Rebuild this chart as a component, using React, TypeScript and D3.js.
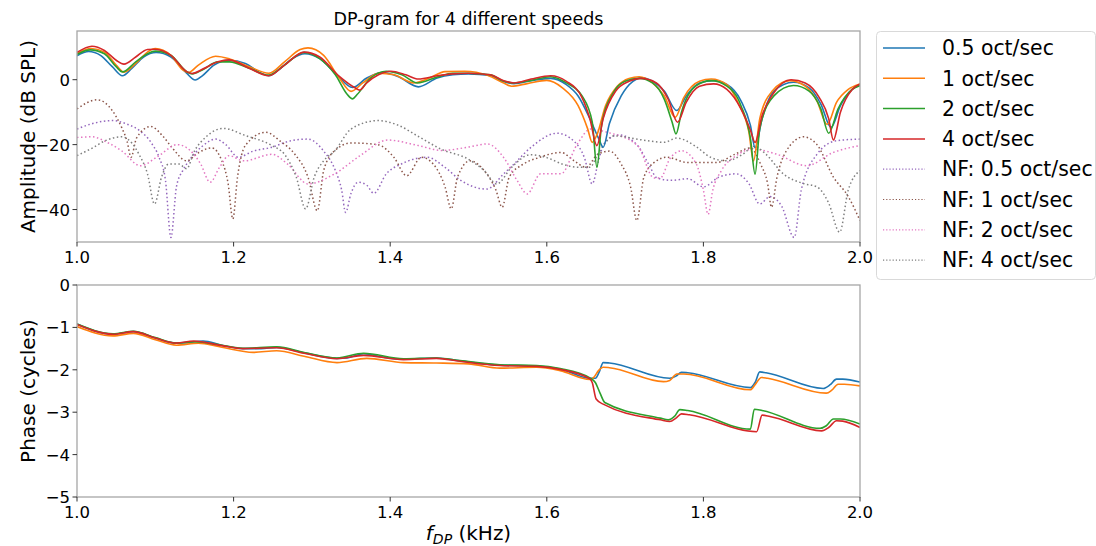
import React from "react";
import * as d3 from "d3";

type P = [number, number];

const seriesLabels = ["0.5 oct/sec", "1 oct/sec", "2 oct/sec", "4 oct/sec"];
const nfLabels = ["NF: 0.5 oct/sec", "NF: 1 oct/sec", "NF: 2 oct/sec", "NF: 4 oct/sec"];
const seriesColors = ["#1f77b4", "#ff7f0e", "#2ca02c", "#d62728"];
const nfColors = ["#9467bd", "#8c564b", "#e377c2", "#7f7f7f"];

const xTicks = [1.0, 1.2, 1.4, 1.6, 1.8, 2.0];
const ampTicks = [0, -20, -40];
const phaseTicks = [0, -1, -2, -3, -4, -5];

// Amplitude (dB SPL) of the signal for each speed
const amp05: P[] = [[1.0,7.4],[1.015,8.7],[1.03,7.5],[1.045,4.0],[1.058,1.2],[1.07,3.5],[1.085,7.0],[1.101,8.4],[1.12,7.0],[1.14,2.0],[1.151,-0.1],[1.16,1.2],[1.175,4.5],[1.194,6.0],[1.215,5.0],[1.235,2.0],[1.245,1.2],[1.26,3.5],[1.275,6.5],[1.291,8.0],[1.31,6.5],[1.33,2.0],[1.352,-2.4],[1.37,0.5],[1.39,2.2],[1.41,1.0],[1.436,-2.2],[1.46,0.5],[1.48,1.5],[1.5,1.8],[1.528,1.3],[1.545,-0.5],[1.558,-1.2],[1.58,-0.3],[1.605,0.4],[1.625,-1.5],[1.64,-5.0],[1.655,-12.0],[1.666,-18.0],[1.672,-20.8],[1.68,-13.5],[1.695,-5.0],[1.71,-0.5],[1.722,0.6],[1.735,-0.5],[1.75,-3.5],[1.766,-9.5],[1.778,-5.0],[1.795,-1.0],[1.813,-0.3],[1.83,-1.5],[1.848,-6.5],[1.86,-14.0],[1.866,-21.0],[1.875,-12.0],[1.89,-3.5],[1.915,-0.8],[1.935,-2.5],[1.95,-7.5],[1.963,-14.7],[1.975,-8.0],[1.99,-3.0],[2.0,-1.5]];
const amp1: P[] = [[1.0,8.0],[1.018,9.6],[1.035,8.5],[1.05,4.5],[1.06,2.3],[1.075,5.0],[1.09,8.5],[1.1,9.6],[1.12,7.5],[1.135,3.0],[1.142,2.2],[1.155,4.5],[1.177,7.2],[1.195,6.4],[1.22,4.0],[1.245,2.0],[1.265,5.5],[1.285,9.3],[1.295,9.8],[1.315,7.5],[1.335,0.5],[1.35,-3.6],[1.365,-1.0],[1.385,2.0],[1.405,1.5],[1.43,-1.0],[1.45,0.5],[1.47,2.5],[1.495,2.6],[1.525,1.3],[1.545,-1.0],[1.555,-2.0],[1.575,-1.2],[1.6,-0.2],[1.62,-2.5],[1.64,-8.0],[1.652,-15.0],[1.658,-19.3],[1.664,-17.0],[1.675,-8.0],[1.69,-2.0],[1.705,0.4],[1.718,0.9],[1.735,-1.0],[1.75,-5.0],[1.764,-11.6],[1.775,-5.5],[1.795,-0.5],[1.81,0.2],[1.83,-1.5],[1.845,-7.5],[1.858,-16.0],[1.864,-25.0],[1.872,-12.0],[1.888,-3.5],[1.91,-0.3],[1.93,-2.0],[1.945,-6.5],[1.958,-13.8],[1.97,-7.0],[1.985,-3.0],[2.0,-1.3]];
const amp2: P[] = [[1.0,7.8],[1.017,9.2],[1.035,8.0],[1.05,4.0],[1.058,2.4],[1.075,5.5],[1.09,8.0],[1.1,8.8],[1.12,7.5],[1.14,2.5],[1.147,1.8],[1.16,3.0],[1.18,5.5],[1.195,5.5],[1.22,3.5],[1.245,1.4],[1.265,4.5],[1.29,8.4],[1.31,6.5],[1.33,1.5],[1.345,-4.5],[1.352,-5.9],[1.358,-4.5],[1.375,0.5],[1.395,2.6],[1.415,1.5],[1.435,-1.0],[1.46,0.8],[1.48,2.0],[1.5,2.0],[1.528,1.5],[1.545,-0.5],[1.558,-1.0],[1.58,-0.2],[1.605,0.9],[1.625,-1.0],[1.645,-5.0],[1.658,-13.0],[1.664,-27.0],[1.67,-14.0],[1.685,-4.0],[1.7,-0.5],[1.718,0.4],[1.735,-1.0],[1.75,-6.0],[1.76,-13.0],[1.765,-16.7],[1.772,-10.0],[1.79,-2.0],[1.81,-0.3],[1.83,-2.0],[1.848,-8.0],[1.86,-18.0],[1.866,-29.1],[1.872,-15.0],[1.89,-5.0],[1.915,-1.8],[1.935,-3.5],[1.95,-9.0],[1.96,-16.5],[1.972,-9.0],[1.99,-3.0],[2.0,-1.8]];
const amp4: P[] = [[1.0,8.4],[1.019,10.3],[1.035,9.0],[1.05,6.0],[1.06,4.8],[1.075,7.0],[1.09,9.3],[1.1,9.4],[1.12,7.5],[1.14,2.5],[1.147,1.9],[1.16,3.2],[1.18,5.5],[1.194,6.1],[1.22,3.5],[1.245,1.2],[1.265,4.5],[1.29,8.5],[1.31,7.0],[1.335,1.0],[1.355,-2.5],[1.361,-3.2],[1.37,-1.0],[1.385,1.5],[1.401,2.6],[1.42,1.5],[1.436,0.2],[1.46,1.2],[1.48,1.8],[1.5,2.0],[1.528,1.5],[1.545,-0.3],[1.558,-1.0],[1.58,0.2],[1.605,1.2],[1.625,-0.5],[1.645,-5.5],[1.655,-12.0],[1.664,-20.3],[1.672,-12.0],[1.688,-3.5],[1.705,-0.5],[1.72,0.4],[1.74,-1.0],[1.755,-6.0],[1.767,-13.1],[1.778,-7.0],[1.795,-2.0],[1.813,-1.3],[1.83,-3.0],[1.848,-9.0],[1.86,-15.5],[1.866,-19.3],[1.875,-11.0],[1.89,-4.0],[1.912,0.0],[1.93,-1.0],[1.948,-5.5],[1.96,-12.0],[1.966,-18.6],[1.975,-10.0],[1.99,-3.0],[2.0,-1.3]];

// Noise floor (dB SPL) for each speed
const nf05: P[] = [[1.0,-15.2],[1.02,-13.5],[1.045,-12.6],[1.065,-13.8],[1.08,-15.7],[1.095,-19.5],[1.105,-24],[1.113,-31],[1.12,-48.6],[1.127,-33],[1.135,-28],[1.143,-25],[1.16,-20.5],[1.177,-18.3],[1.19,-20],[1.206,-23.9],[1.225,-22],[1.249,-20.8],[1.27,-19],[1.295,-18.3],[1.315,-22],[1.33,-28],[1.338,-34],[1.343,-40.9],[1.35,-35],[1.359,-31.6],[1.37,-32.5],[1.379,-35],[1.395,-29],[1.414,-26],[1.447,-23.9],[1.47,-27],[1.49,-31],[1.523,-33.7],[1.545,-29],[1.558,-26],[1.579,-21],[1.613,-16.5],[1.634,-18.8],[1.648,-24],[1.658,-32.1],[1.666,-25],[1.673,-19.8],[1.692,-17],[1.716,-20.3],[1.73,-26],[1.741,-30.3],[1.76,-31],[1.78,-30.5],[1.8,-33],[1.82,-30],[1.842,-29],[1.858,-32],[1.872,-38.3],[1.885,-36],[1.9,-39],[1.916,-48.6],[1.925,-34],[1.945,-23],[1.97,-18.8],[2.0,-18.3]];
const nf1: P[] = [[1.0,-9.0],[1.026,-6.2],[1.045,-9.5],[1.057,-14.7],[1.064,-19],[1.069,-23.9],[1.076,-18],[1.094,-14.4],[1.11,-17.5],[1.121,-20.8],[1.14,-25],[1.155,-22.5],[1.172,-21],[1.185,-25],[1.193,-32],[1.199,-42.9],[1.205,-30],[1.215,-20.3],[1.241,-16.2],[1.26,-19],[1.278,-22.9],[1.295,-30],[1.307,-40.4],[1.315,-28],[1.329,-21.9],[1.35,-19.5],[1.384,-20],[1.405,-24],[1.421,-29.6],[1.44,-23.9],[1.455,-26],[1.47,-33],[1.478,-39.8],[1.486,-30],[1.502,-25],[1.52,-28],[1.535,-34],[1.543,-39.3],[1.552,-30],[1.57,-26],[1.59,-24],[1.618,-22.4],[1.635,-25],[1.65,-27],[1.665,-23],[1.68,-22],[1.695,-26],[1.707,-33],[1.715,-43.4],[1.724,-30],[1.74,-25],[1.753,-23.9],[1.78,-25.5],[1.817,-25.5],[1.84,-23],[1.86,-21],[1.873,-26],[1.882,-32],[1.887,-39.3],[1.894,-30],[1.906,-21.9],[1.928,-17.6],[1.945,-20],[1.966,-30],[1.985,-36],[2.0,-43.4]];
const nf2: P[] = [[1.0,-17.8],[1.019,-17.6],[1.04,-19.5],[1.057,-21.9],[1.081,-26.5],[1.104,-23.5],[1.128,-20],[1.145,-21.9],[1.158,-26],[1.17,-31.6],[1.182,-27],[1.194,-23.4],[1.213,-25],[1.249,-23],[1.269,-26],[1.295,-32.1],[1.329,-29],[1.361,-23.5],[1.397,-18.6],[1.436,-20.3],[1.466,-21.8],[1.499,-20.8],[1.524,-19.8],[1.545,-24],[1.562,-31],[1.575,-35.2],[1.592,-29],[1.618,-29],[1.639,-19.8],[1.656,-15.2],[1.677,-16.2],[1.716,-20.3],[1.737,-30.3],[1.745,-30.3],[1.757,-24.4],[1.772,-21.9],[1.791,-26],[1.8,-34],[1.806,-41.5],[1.812,-34],[1.823,-28],[1.842,-23.4],[1.863,-21.4],[1.893,-22.9],[1.932,-26.5],[1.966,-22.4],[2.0,-20.3]];
const nf4: P[] = [[1.0,-23.4],[1.02,-21],[1.036,-18.8],[1.057,-17.6],[1.07,-19.5],[1.079,-22.9],[1.09,-29],[1.099,-38.3],[1.108,-30],[1.117,-26],[1.13,-26],[1.14,-27.4],[1.15,-22],[1.164,-17.8],[1.187,-15],[1.215,-17.2],[1.249,-20.3],[1.265,-23],[1.28,-30],[1.292,-39.8],[1.303,-30],[1.315,-25],[1.329,-22],[1.35,-15.2],[1.384,-12.6],[1.41,-14],[1.436,-17.5],[1.465,-21.4],[1.499,-24.4],[1.52,-28],[1.536,-32.1],[1.555,-27],[1.579,-23.1],[1.6,-24],[1.62,-26],[1.64,-27],[1.655,-27],[1.665,-23],[1.686,-17.3],[1.72,-18.5],[1.75,-19.3],[1.766,-18],[1.79,-20.5],[1.81,-24],[1.83,-25],[1.85,-23],[1.865,-20.5],[1.88,-23],[1.902,-29],[1.928,-32],[1.945,-33],[1.96,-38],[1.974,-47],[1.985,-34],[2.0,-28]];

// Phase (cycles) for each speed
const ph05: P[] = [[1.0,-0.92],[1.046,-1.16],[1.072,-1.1],[1.1,-1.25],[1.127,-1.37],[1.14,-1.36],[1.161,-1.32],[1.185,-1.42],[1.212,-1.5],[1.235,-1.5],[1.255,-1.47],[1.29,-1.6],[1.332,-1.73],[1.345,-1.72],[1.366,-1.62],[1.39,-1.7],[1.417,-1.75],[1.459,-1.72],[1.489,-1.79],[1.54,-1.89],[1.587,-1.91],[1.617,-1.98],[1.655,-2.2],[1.662,-2.2],[1.667,-2.05],[1.672,-1.83],[1.68,-1.84],[1.757,-2.2],[1.765,-2.15],[1.772,-2.06],[1.78,-2.07],[1.86,-2.42],[1.866,-2.3],[1.872,-2.05],[1.88,-2.07],[1.953,-2.44],[1.962,-2.35],[1.97,-2.22],[1.978,-2.22],[2.0,-2.29]];
const ph1: P[] = [[1.0,-0.98],[1.046,-1.2],[1.072,-1.14],[1.1,-1.29],[1.127,-1.42],[1.155,-1.37],[1.185,-1.47],[1.225,-1.59],[1.255,-1.55],[1.29,-1.68],[1.332,-1.83],[1.37,-1.73],[1.417,-1.83],[1.459,-1.84],[1.5,-1.86],[1.54,-1.96],[1.587,-1.94],[1.617,-2.02],[1.655,-2.23],[1.66,-2.18],[1.666,-2.02],[1.672,-1.94],[1.68,-1.95],[1.749,-2.28],[1.757,-2.25],[1.766,-2.1],[1.775,-2.1],[1.86,-2.47],[1.866,-2.35],[1.874,-2.18],[1.882,-2.2],[1.957,-2.55],[1.964,-2.48],[1.972,-2.34],[1.98,-2.34],[2.0,-2.38]];
const ph2: P[] = [[1.0,-0.92],[1.046,-1.15],[1.072,-1.09],[1.1,-1.24],[1.127,-1.37],[1.15,-1.34],[1.185,-1.42],[1.212,-1.49],[1.255,-1.46],[1.29,-1.59],[1.332,-1.72],[1.366,-1.61],[1.417,-1.74],[1.459,-1.72],[1.489,-1.78],[1.54,-1.88],[1.587,-1.9],[1.617,-1.97],[1.655,-2.19],[1.662,-2.3],[1.668,-2.55],[1.674,-2.77],[1.745,-3.14],[1.755,-3.18],[1.763,-3.1],[1.77,-2.94],[1.78,-2.96],[1.86,-3.4],[1.865,-2.93],[1.875,-2.96],[1.949,-3.38],[1.957,-3.32],[1.966,-3.16],[1.975,-3.16],[2.0,-3.28]];
const ph4: P[] = [[1.0,-0.93],[1.046,-1.16],[1.072,-1.1],[1.1,-1.25],[1.127,-1.37],[1.149,-1.32],[1.185,-1.43],[1.212,-1.5],[1.255,-1.48],[1.29,-1.61],[1.332,-1.74],[1.366,-1.66],[1.417,-1.76],[1.459,-1.73],[1.489,-1.8],[1.54,-1.9],[1.587,-1.92],[1.617,-1.99],[1.655,-2.21],[1.658,-2.3],[1.663,-2.69],[1.672,-2.81],[1.745,-3.18],[1.757,-3.22],[1.765,-3.14],[1.772,-3.04],[1.782,-3.06],[1.868,-3.46],[1.875,-3.07],[1.885,-3.1],[1.951,-3.44],[1.96,-3.36],[1.97,-3.2],[1.978,-3.21],[2.0,-3.36]];

const ampSeries = [amp05, amp1, amp2, amp4];
const nfSeries = [nf05, nf1, nf2, nf4];
const phaseSeries = [ph05, ph1, ph2, ph4];

const W = 1096;
const H = 546;
const L = 77;
const R = 860;
const top1 = 31, bot1 = 242;
const top2 = 285, bot2 = 497;
const FONT = "DejaVu Sans, sans-serif";
const SPINE = "#a6a6a6";
const TICK_FS = 16.5;
const LABEL_FS = 20;
const LEGEND_FS = 20.4;

const fmtMinus = (v: number) => String(v).replace("-", "\u2212");

export default function App() {
  const x = d3.scaleLinear().domain([1.0, 2.0]).range([L, R]);
  const yA = d3.scaleLinear().domain([-50, 15]).range([bot1, top1]);
  const yP = d3.scaleLinear().domain([-5, 0]).range([bot2, top2]);

  const lineA = d3.line<P>().x((d) => x(d[0])).y((d) => yA(d[1])).curve(d3.curveMonotoneX);
  const lineP = d3.line<P>().x((d) => x(d[0])).y((d) => yP(d[1])).curve(d3.curveMonotoneX);

  const legendItems = [
    ...seriesLabels.map((l, i) => ({ label: l, color: seriesColors[i], dotted: false })),
    ...nfLabels.map((l, i) => ({ label: l, color: nfColors[i], dotted: true })),
  ];

  const frame = (t: number, b: number) => (
    <rect x={L} y={t} width={R - L} height={b - t} fill="none" stroke={SPINE} strokeWidth={1.3} />
  );

  const xAxis = (b: number) =>
    xTicks.map((t) => (
      <g key={t}>
        <line x1={x(t)} x2={x(t)} y1={b} y2={b + 4.5} stroke="#333" strokeWidth={1} />
        <text x={x(t)} y={b + 21} textAnchor="middle" fontSize={TICK_FS} fontFamily={FONT} fill="#000">
          {t.toFixed(1)}
        </text>
      </g>
    ));

  const yAxis = (ticks: number[], s: d3.ScaleLinear<number, number>) =>
    ticks.map((t) => (
      <g key={t}>
        <line x1={L - 4.5} x2={L} y1={s(t)} y2={s(t)} stroke="#333" strokeWidth={1} />
        <text x={L - 7} y={s(t) + 6} textAnchor="end" fontSize={TICK_FS} fontFamily={FONT} fill="#000">
          {fmtMinus(t)}
        </text>
      </g>
    ));

  return (
    <svg width={W} height={H} style={{ position: "absolute", left: 0, top: 0, background: "#fff" }}>
      <defs>
        <clipPath id="c1"><rect x={L} y={top1} width={R - L} height={bot1 - top1} /></clipPath>
        <clipPath id="c2"><rect x={L} y={top2} width={R - L} height={bot2 - top2} /></clipPath>
      </defs>
      <rect x={0} y={0} width={W} height={H} fill="#fff" />

      <text x={(L + R) / 2} y={25} textAnchor="middle" fontSize={17.5} fontFamily={FONT} fill="#000">
        DP-gram for 4 different speeds
      </text>

      {/* Top panel */}
      <g clipPath="url(#c1)">
        {nfSeries.map((s, i) => (
          <path key={"nf" + i} d={lineA(s) || ""} fill="none" stroke={nfColors[i]} strokeWidth={1.5} strokeDasharray="1.5 2.5" />
        ))}
        {ampSeries.map((s, i) => (
          <path key={"a" + i} d={lineA(s) || ""} fill="none" stroke={seriesColors[i]} strokeWidth={1.6} />
        ))}
      </g>
      {frame(top1, bot1)}
      {xAxis(bot1)}
      {yAxis(ampTicks, yA)}
      <text transform={`translate(35,${(top1 + bot1) / 2}) rotate(-90)`} textAnchor="middle" fontSize={LABEL_FS} fontFamily={FONT} fill="#000">
        Amplitude (dB SPL)
      </text>

      {/* Bottom panel */}
      <g clipPath="url(#c2)">
        {phaseSeries.map((s, i) => (
          <path key={"p" + i} d={lineP(s) || ""} fill="none" stroke={seriesColors[i]} strokeWidth={1.6} />
        ))}
      </g>
      {frame(top2, bot2)}
      {xAxis(bot2)}
      {yAxis(phaseTicks, yP)}
      <text transform={`translate(35,${(top2 + bot2) / 2}) rotate(-90)`} textAnchor="middle" fontSize={LABEL_FS} fontFamily={FONT} fill="#000">
        Phase (cycles)
      </text>
      <text x={(L + R) / 2} y={540} textAnchor="middle" fontSize={LABEL_FS} fontFamily={FONT} fill="#000">
        <tspan fontStyle="italic">f</tspan>
        <tspan fontStyle="italic" fontSize={14} dy={4}>DP</tspan>
        <tspan dy={-4}> (kHz)</tspan>
      </text>

      {/* Legend */}
      <rect x={876.5} y={31.5} width={219} height={248} rx={4} ry={4} fill="#fff" stroke="#d9d9d9" strokeWidth={1} />
      {legendItems.map((it, i) => {
        const cy = 48 + i * 30.3;
        return (
          <g key={it.label}>
            <line x1={883} x2={925} y1={cy} y2={cy} stroke={it.color} strokeWidth={it.dotted ? 1.2 : 1.5}
              strokeDasharray={it.dotted ? "1.2 2" : undefined} />
            <text x={942} y={cy + 7.2} fontSize={LEGEND_FS} fontFamily={FONT} fill="#000">{it.label}</text>
          </g>
        );
      })}
    </svg>
  );
}
